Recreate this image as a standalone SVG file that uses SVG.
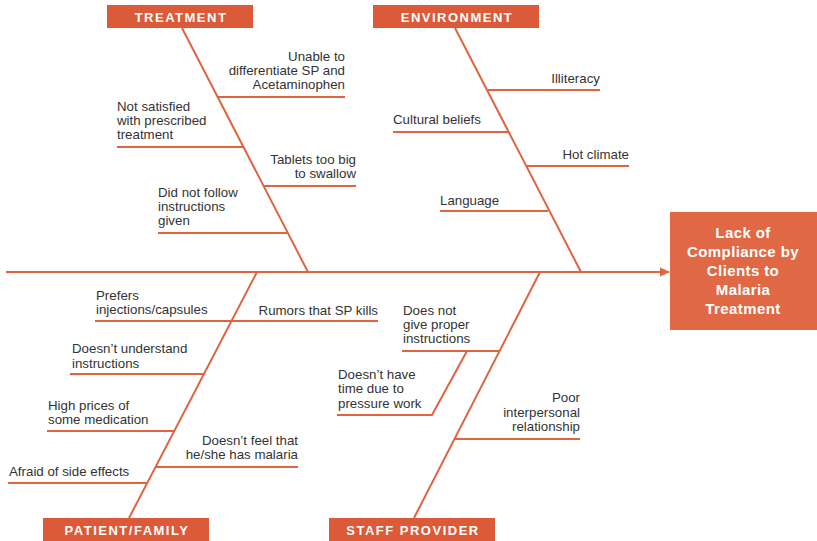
<svg xmlns="http://www.w3.org/2000/svg" width="817" height="541" viewBox="0 0 817 541">
<style>
.ln{stroke:#DF6440;stroke-width:2;fill:none}
.t{font-family:"Liberation Sans",Arial,sans-serif;font-size:13.3px;fill:#333}
.r{text-anchor:end}
.cat{fill:#DC5A38}
.ct{font-family:"Liberation Sans",Arial,sans-serif;font-size:13px;font-weight:bold;fill:#fff;text-anchor:middle;letter-spacing:1.5px}
.et{font-family:"Liberation Sans",Arial,sans-serif;font-size:15px;font-weight:bold;fill:#fff;text-anchor:middle;letter-spacing:0.4px}
</style>
<defs>
<marker id="ah" markerWidth="10" markerHeight="10" refX="9" refY="5" orient="auto" markerUnits="userSpaceOnUse">
<path d="M0,0.5 L10,5 L0,9.5 z" fill="#DF6440"/>
</marker>
</defs>
<g id="connectors">
<line class="ln" x1="6" y1="272" x2="669" y2="272" marker-end="url(#ah)"/>
<line class="ln" x1="182" y1="28" x2="308" y2="272"/>
<line class="ln" x1="455" y1="28" x2="581" y2="272"/>
<line class="ln" x1="257" y1="272" x2="129" y2="518"/>
<line class="ln" x1="540" y1="272" x2="414" y2="518"/>
<line class="ln" x1="218" y1="97" x2="345" y2="97"/>
<line class="ln" x1="117" y1="147" x2="243" y2="147"/>
<line class="ln" x1="263" y1="186" x2="356" y2="186"/>
<line class="ln" x1="158" y1="233" x2="287" y2="233"/>
<line class="ln" x1="487" y1="90" x2="600" y2="90"/>
<line class="ln" x1="393" y1="132" x2="508" y2="132"/>
<line class="ln" x1="526" y1="166" x2="629" y2="166"/>
<line class="ln" x1="440" y1="211" x2="548" y2="211"/>
<line class="ln" x1="95" y1="321" x2="378" y2="321"/>
<line class="ln" x1="70" y1="374" x2="204" y2="374"/>
<line class="ln" x1="47" y1="431" x2="174" y2="431"/>
<line class="ln" x1="156" y1="467" x2="298" y2="467"/>
<line class="ln" x1="8" y1="483" x2="147" y2="483"/>
<line class="ln" x1="402" y1="351" x2="500" y2="351"/>
<polyline class="ln" points="337,415 432,415 467,351"/>
<line class="ln" x1="455" y1="439" x2="580" y2="439"/>
</g>
<g id="effect">
<rect x="670" y="212" width="147" height="118" fill="#E06845"/>
<text class="et" x="743" y="238">Lack of</text>
<text class="et" x="743" y="257">Compliance by</text>
<text class="et" x="743" y="276">Clients to</text>
<text class="et" x="743" y="295">Malaria</text>
<text class="et" x="743" y="314">Treatment</text>
</g>
<g id="cat-treatment">
<rect class="cat" x="107" y="5" width="146" height="23"/>
<text class="ct" x="181" y="22">TREATMENT</text>
</g>
<g id="cat-environment">
<rect class="cat" x="373" y="5" width="166" height="23"/>
<text class="ct" x="457" y="22">ENVIRONMENT</text>
</g>
<g id="cat-patient">
<rect class="cat" x="43" y="518" width="166" height="23"/>
<text class="ct" x="127" y="535">PATIENT/FAMILY</text>
</g>
<g id="cat-staff">
<rect class="cat" x="329" y="518" width="166" height="23"/>
<text class="ct" x="413" y="535">STAFF PROVIDER</text>
</g>
<g id="treatment-causes">
<text class="t r" x="345" y="61">Unable to</text>
<text class="t r" x="345" y="75">differentiate SP and</text>
<text class="t r" x="345" y="89">Acetaminophen</text>
<text class="t" x="117" y="111">Not satisfied</text>
<text class="t" x="117" y="125">with prescribed</text>
<text class="t" x="117" y="139">treatment</text>
<text class="t r" x="356" y="164">Tablets too big</text>
<text class="t r" x="356" y="178">to swallow</text>
<text class="t" x="158" y="197">Did not follow</text>
<text class="t" x="158" y="211">instructions</text>
<text class="t" x="158" y="225">given</text>
</g>
<g id="environment-causes">
<text class="t r" x="600" y="83">Illiteracy</text>
<text class="t" x="393" y="124">Cultural beliefs</text>
<text class="t r" x="629" y="159">Hot climate</text>
<text class="t" x="440" y="205">Language</text>
</g>
<g id="patient-causes">
<text class="t" x="96" y="300">Prefers</text>
<text class="t" x="96" y="314">injections/capsules</text>
<text class="t r" x="378" y="315">Rumors that SP kills</text>
<text class="t" x="72" y="353">Doesn’t understand</text>
<text class="t" x="72" y="368">instructions</text>
<text class="t" x="48" y="410">High prices of</text>
<text class="t" x="48" y="424">some medication</text>
<text class="t r" x="298" y="445">Doesn’t feel that</text>
<text class="t r" x="298" y="459">he/she has malaria</text>
<text class="t" x="9" y="476">Afraid of side effects</text>
</g>
<g id="staff-causes">
<text class="t" x="403" y="315">Does not</text>
<text class="t" x="403" y="329">give proper</text>
<text class="t" x="403" y="343">instructions</text>
<text class="t" x="338" y="379">Doesn’t have</text>
<text class="t" x="338" y="393">time due to</text>
<text class="t" x="338" y="408">pressure work</text>
<text class="t r" x="580" y="402">Poor</text>
<text class="t r" x="580" y="417">interpersonal</text>
<text class="t r" x="580" y="431">relationship</text>
</g>
</svg>
